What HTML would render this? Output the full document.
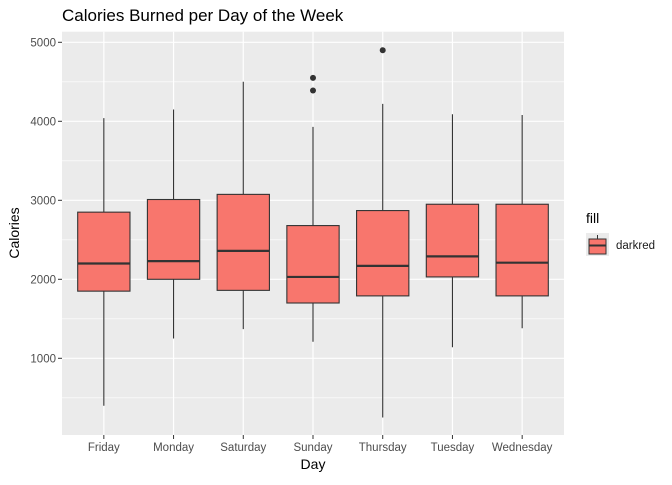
<!DOCTYPE html>
<html><head><meta charset="utf-8"><style>
body{margin:0;background:#fff;font-family:"Liberation Sans",sans-serif}
</style></head><body>
<svg id="chart" width="672" height="480" xmlns="http://www.w3.org/2000/svg" font-family="Liberation Sans, sans-serif">
<text x="62" y="21" font-size="17" fill="#000">Calories Burned per Day of the Week</text>
<rect x="62" y="31.7" width="502" height="403.3" fill="#ebebeb"/>
<g id="grid"></g><g id="boxes"></g><g id="axes"></g>
<text x="313" y="469" font-size="14" text-anchor="middle">Day</text>
<text transform="translate(19,233) rotate(-90)" font-size="14" text-anchor="middle">Calories</text>
<g>
<text x="586" y="223" font-size="14">fill</text>
<rect x="586" y="233" width="23" height="23" fill="#ebebeb"/>
<line x1="597.5" y1="235" x2="597.5" y2="254" stroke="#333" stroke-width="1"/>
<rect x="589" y="239" width="17" height="15" fill="#f8766d" stroke="#333" stroke-width="1"/>
<line x1="589" y1="245.5" x2="606" y2="245.5" stroke="#333" stroke-width="2"/>
<text x="616" y="249" font-size="11.5" fill="#1a1a1a">darkred</text>
</g>
</svg>
<script>
const categories=["Friday","Monday","Saturday","Sunday","Thursday","Tuesday","Wednesday"];
const whiskerLow=[400,1250,1370,1210,250,1140,1380];
const q1=[1850,2000,1860,1700,1790,2030,1790];
const median=[2200,2230,2360,2030,2170,2290,2210];
const q3=[2850,3010,3075,2680,2870,2950,2950];
const whiskerHigh=[4040,4150,4500,3930,4220,4090,4080];
const outlierDay=[3,3,4];
const outlierValue=[4550,4390,4900];
const yTicks=[1000,2000,3000,4000,5000];
const yMinor=[500,1500,2500,3500,4500];
const NS="http://www.w3.org/2000/svg";
const px0=62,pw=502,step=pw/7.2;
function xs(i){return px0+(i+0.6)*step;}
function ys(v){return 279.3-(v-2000)*0.079;}
function mk(t,a,p){const e=document.createElementNS(NS,t);for(const k in a)e.setAttribute(k,a[k]);p.appendChild(e);return e;}
const grid=document.getElementById('grid'),boxes=document.getElementById('boxes'),axes=document.getElementById('axes');
yMinor.forEach(v=>{const l=mk('line',{x1:62,x2:564,y1:ys(v),y2:ys(v),stroke:'#fff','stroke-width':0.6},grid);

});
yTicks.forEach(v=>{const l=mk('line',{x1:62,x2:564,y1:ys(v),y2:ys(v),stroke:'#fff','stroke-width':1.2},grid);


mk('line',{x1:58,x2:62,y1:ys(v),y2:ys(v),stroke:'#333','stroke-width':1},axes);
const t=mk('text',{x:56,y:ys(v)+4,'font-size':11.5,'text-anchor':'end',fill:'#4d4d4d'},axes);t.textContent=v;

});
categories.forEach((c,i)=>{const x=xs(i);
const g=mk('line',{x1:x,x2:x,y1:31.7,y2:435,stroke:'#fff','stroke-width':1.2},grid);


mk('line',{x1:x,x2:x,y1:435,y2:439,stroke:'#333','stroke-width':1},axes);
const t=mk('text',{x:x,y:451,'font-size':11.5,'text-anchor':'middle',fill:'#4d4d4d'},axes);t.textContent=c;


const hw=step*0.375;
const wl=mk('line',{x1:x,x2:x,y1:ys(whiskerHigh[i]),y2:ys(whiskerLow[i]),stroke:'#333','stroke-width':1.1},boxes);


const b=mk('rect',{x:x-hw,y:ys(q3[i]),width:2*hw,height:ys(q1[i])-ys(q3[i]),fill:'#f8766d',stroke:'#333','stroke-width':1.1},boxes);


const m=mk('line',{x1:x-hw,x2:x+hw,y1:ys(median[i]),y2:ys(median[i]),stroke:'#333','stroke-width':2.2},boxes);

});
outlierValue.forEach((v,k)=>{const o=mk('circle',{cx:xs(outlierDay[k]),cy:ys(v),r:3,fill:'#333'},boxes);

});
</script>
</body></html>
